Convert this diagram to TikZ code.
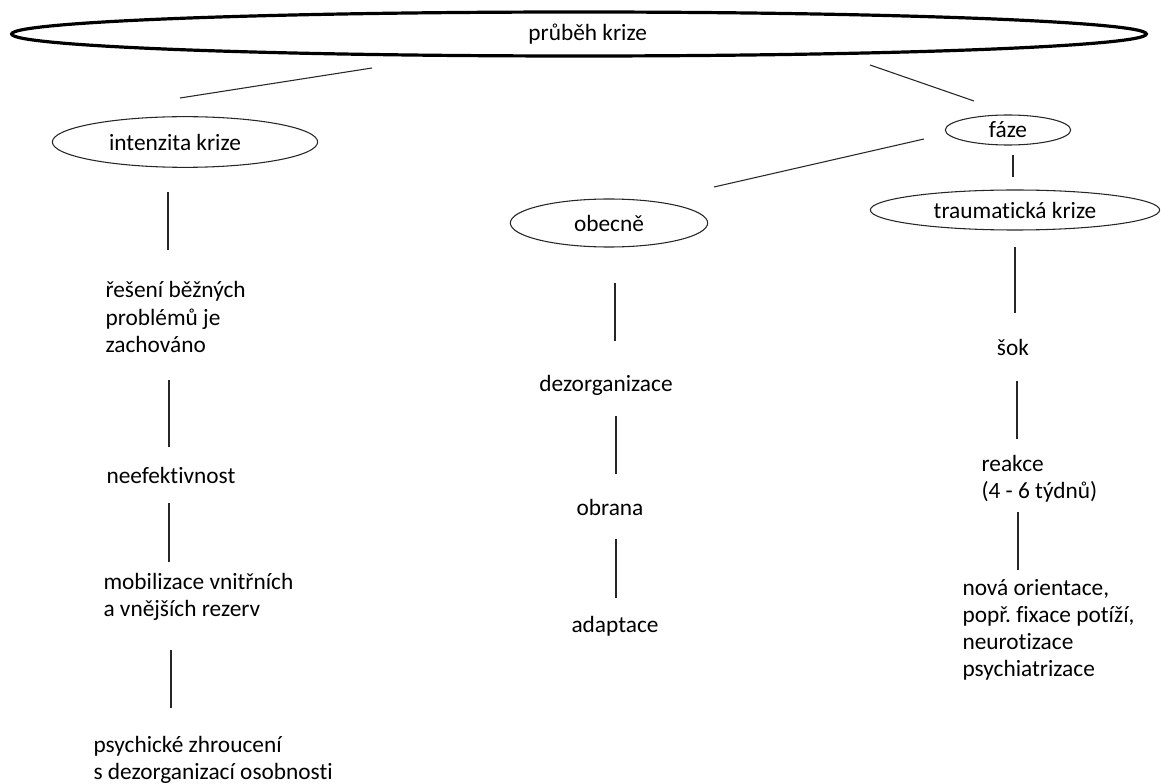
\documentclass[tikz,border=0pt]{standalone}
\usepackage{fontspec}
\setmainfont[Ligatures={NoCommon,NoContextual}]{Carlito}
\usetikzlibrary{shapes.geometric}
\frenchspacing

\begin{document}
\begin{tikzpicture}[x=0.75pt,y=-0.75pt,line width=0.8pt,draw=black!85,
			every node/.style={font=\fontsize{17.5}{20.3}\selectfont},
			oval/.style={ellipse,draw,inner sep=0pt},
			big oval/.style={oval,line width=2.4pt,draw=black,minimum width=851pt,minimum height=33pt},
			item/.style={inner sep=0pt,align=left,anchor=west},
			word/.style={inner sep=0pt}];
			
			\useasboundingbox (0,0) rectangle (1161,784);
			
			% ovals
			\node[big oval] (krize) at (579,34) {\hspace*{13pt}průběh krize};
			\node[oval,minimum width=199pt,minimum height=38pt] (intenzita) at (185,142) {intenzita krize\hspace*{15pt}};
			\node[oval,minimum width=94pt,minimum height=22.5pt] (faze) at (1008,130) {fáze};
			\node[oval,minimum width=148pt,minimum height=36pt] (obecne) at (609,223) {obecně};
			\node[oval,minimum width=217pt,minimum height=30pt] (trauma) at (1015,210) {traumatická krize};
			
			% intenzita krize
			\node[item] (reseni) at (105,317) {řešení běžných\\problémů je\\zachováno};
			\node[item] (neefekt) at (106,475) {neefektivnost};
			\node[item] (mobil) at (103,597) {mobilizace vnitřních\\a vnějších rezerv};
			\node[item] (zhrouc) at (93,760) {psychické zhroucení\\s dezorganizací osobnosti};
			
			% obecne
			\node[word] (dezorg) at (606,385) {dezorganizace};
			\node[word] (obrana) at (610,507) {obrana};
			\node[word] (adapt) at (615,626) {adaptace};
			
			% traumaticka krize
			\node[word] (sok) at (1013,347) {šok};
			\node[item] (reakce) at (981,479) {reakce\\(4 - 6 týdnů)};
			\node[item] (nova) at (962,630) {nová orientace,\\popř. fixace potíží,\\neurotizace\\psychiatrizace};
			
			% line ends
			\coordinate (k1) at (372,68);   \coordinate (i0) at (180,98);
			\coordinate (k2) at (870,65);   \coordinate (f0) at (974,101);
			\coordinate (f1) at (924,139);  \coordinate (o0) at (714,187);
			\coordinate (f2) at (1013,155); \coordinate (t0) at (1013,177);
			\coordinate (i1) at (168,192);  \coordinate (r0) at (168,250);
			\coordinate (r1) at (169,380);  \coordinate (n0) at (169,447);
			\coordinate (n1) at (169,503);  \coordinate (m0) at (169,562);
			\coordinate (m1) at (171,650);  \coordinate (z0) at (171,708);
			\coordinate (o1) at (615,283);  \coordinate (d0) at (615,341);
			\coordinate (d1) at (616,416);  \coordinate (b0) at (616,474);
			\coordinate (b1) at (616,539);  \coordinate (a0) at (616,598);
			\coordinate (t1) at (1015,247); \coordinate (s0) at (1015,313);
			\coordinate (s1) at (1017,381); \coordinate (e0) at (1017,439);
			\coordinate (e1) at (1018,512); \coordinate (v0) at (1018,570);
			
			\foreach \a/\b in {k1/i0,k2/f0,f1/o0,f2/t0,i1/r0,r1/n0,n1/m0,m1/z0,
				o1/d0,d1/b0,b1/a0,t1/s0,s1/e0,e1/v0}
			\draw (\a) -- (\b);
			
			\end{tikzpicture}
\end{document}
